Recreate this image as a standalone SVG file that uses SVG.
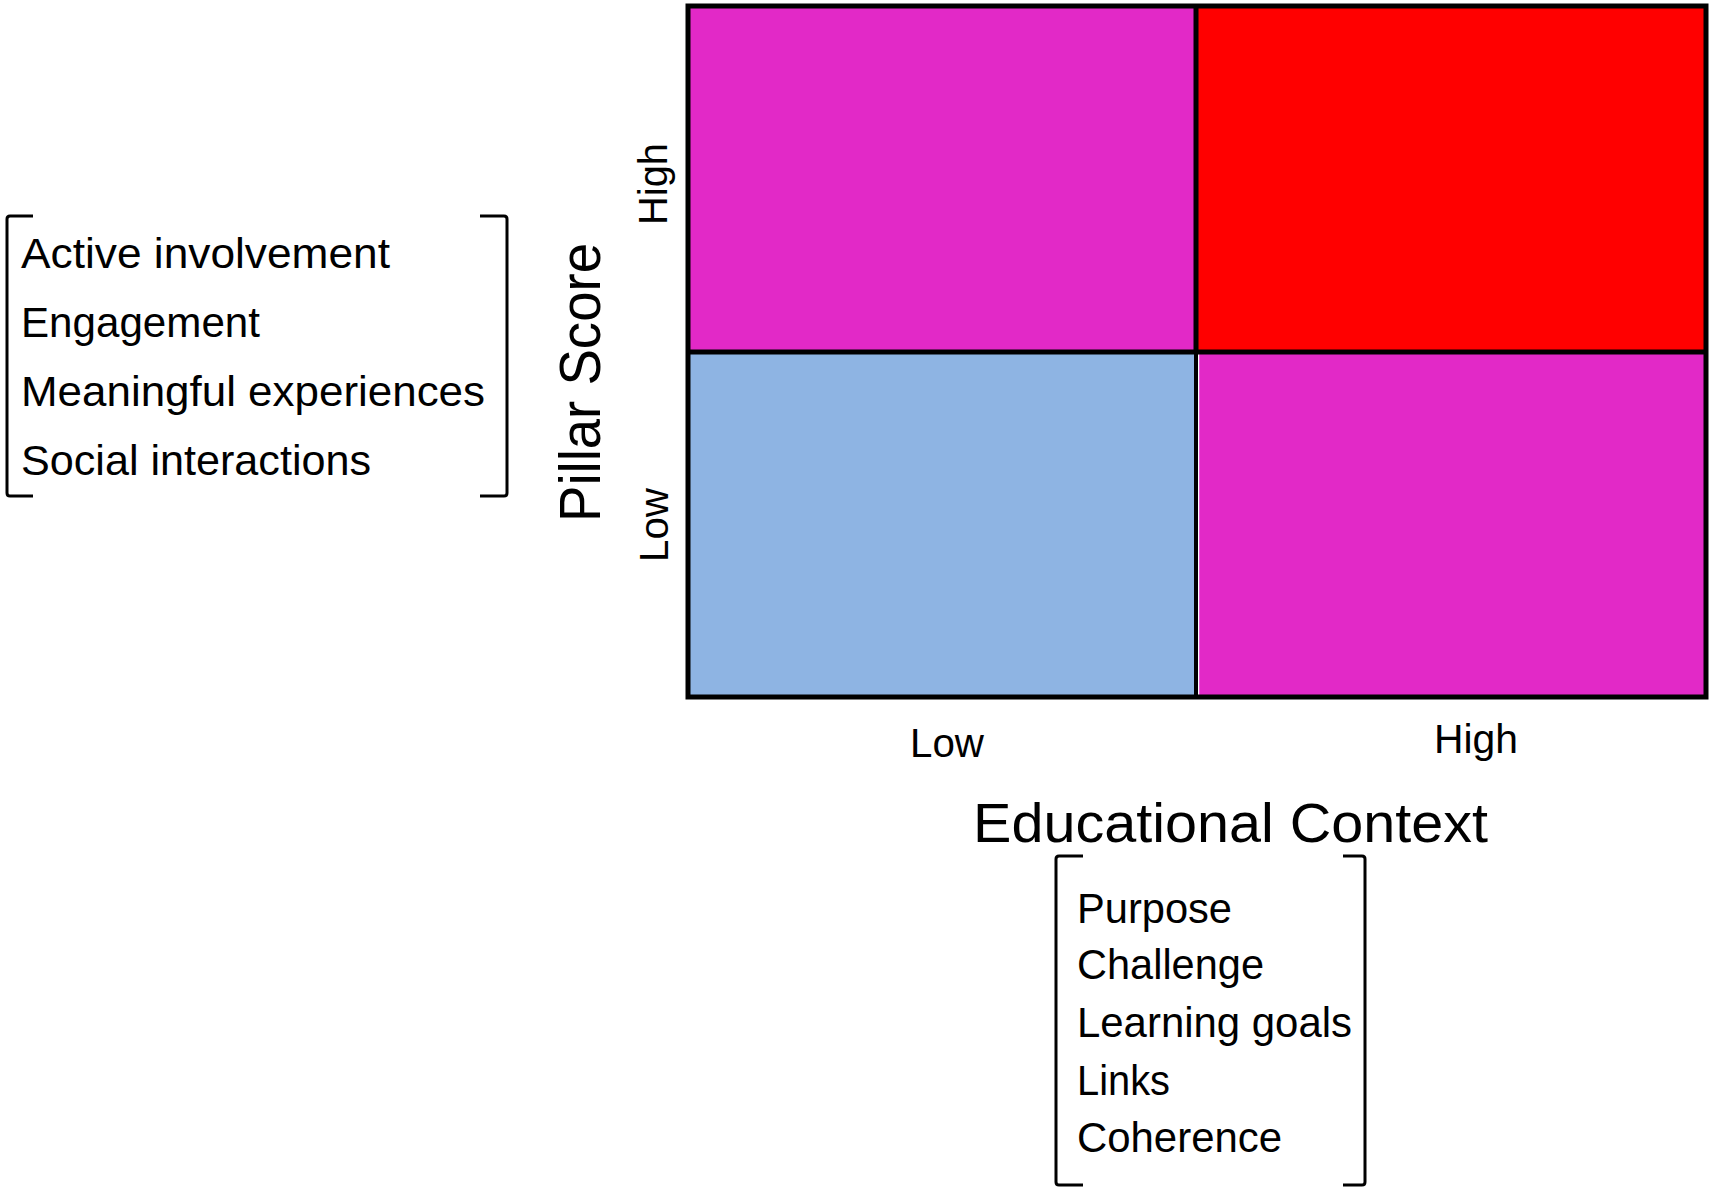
<svg xmlns="http://www.w3.org/2000/svg" width="1719" height="1189" viewBox="0 0 1719 1189">
<style>
  .t { font-family: "Liberation Sans", Arial, sans-serif; fill: #000; }
  .item { font-size: 42px; }
  .tick { font-size: 41px; }
  .axis { font-size: 57px; }
  .br { fill: none; stroke: #000; stroke-width: 3; stroke-linecap: butt; }
  .grid { fill: none; stroke: #000; stroke-width: 5; }
</style>
<rect width="1719" height="1189" fill="#ffffff"/>

<g id="matrix">
  <g id="cell-low-high"><rect x="688" y="6" width="508" height="346" fill="#E229C7"/></g>
  <g id="cell-high-high"><rect x="1196" y="6" width="510" height="346" fill="#FF0000"/></g>
  <g id="cell-low-low"><rect x="688" y="352" width="508" height="345" fill="#8EB4E3"/></g>
  <g id="cell-high-low"><rect x="1196" y="352" width="510" height="345" fill="#E229C7"/></g>
  <line x1="1198.5" y1="354" x2="1198.5" y2="695" stroke="#ffffff" stroke-width="1.5"/>
  <rect class="grid" x="688" y="6" width="1018" height="691"/>
</g>

<g id="connectors">
  <line class="grid" x1="1196" y1="6" x2="1196" y2="352"/>
  <line x1="1196" y1="352" x2="1196" y2="697" stroke="#000" stroke-width="4"/>
  <line class="grid" x1="688" y1="352" x2="1706" y2="352"/>
</g>

<g id="y-axis">
  <text class="t axis" text-anchor="middle" transform="translate(600,382.5) rotate(-90)" textLength="279" lengthAdjust="spacingAndGlyphs">Pillar Score</text>
  <text class="t tick" text-anchor="middle" transform="translate(666.5,184) rotate(-90)" textLength="82" lengthAdjust="spacingAndGlyphs">High</text>
  <text class="t tick" text-anchor="middle" transform="translate(668,525) rotate(-90)" textLength="74" lengthAdjust="spacingAndGlyphs">Low</text>
</g>

<g id="x-axis">
  <text class="t tick" x="910" y="757" textLength="74" lengthAdjust="spacingAndGlyphs">Low</text>
  <text class="t tick" x="1434" y="753" textLength="84" lengthAdjust="spacingAndGlyphs">High</text>
  <text class="t" x="973" y="842" textLength="515" lengthAdjust="spacingAndGlyphs" style="font-size:55px">Educational Context</text>
</g>

<g id="pillar-list">
  <path class="br" d="M33 216 L10 216 Q7 216 7 219 L7 493 Q7 496 10 496 L33 496"/>
  <path class="br" d="M480 216 L504 216 Q507 216 507 219 L507 493 Q507 496 504 496 L480 496"/>
  <text class="t item" x="21" y="268" textLength="369" lengthAdjust="spacingAndGlyphs">Active involvement</text>
  <text class="t item" x="21" y="337" textLength="239" lengthAdjust="spacingAndGlyphs">Engagement</text>
  <text class="t item" x="21" y="406" textLength="464" lengthAdjust="spacingAndGlyphs">Meaningful experiences</text>
  <text class="t item" x="21" y="475" textLength="350" lengthAdjust="spacingAndGlyphs">Social interactions</text>
</g>

<g id="context-list">
  <path class="br" d="M1083 856 L1059 856 Q1056 856 1056 859 L1056 1182 Q1056 1185 1059 1185 L1083 1185"/>
  <path class="br" d="M1343 856 L1362 856 Q1365 856 1365 859 L1365 1182 Q1365 1185 1362 1185 L1343 1185"/>
  <text class="t item" x="1077" y="923" textLength="155" lengthAdjust="spacingAndGlyphs">Purpose</text>
  <text class="t item" x="1077" y="979" textLength="187" lengthAdjust="spacingAndGlyphs">Challenge</text>
  <text class="t item" x="1077" y="1037" textLength="275" lengthAdjust="spacingAndGlyphs">Learning goals</text>
  <text class="t item" x="1077" y="1095" textLength="93" lengthAdjust="spacingAndGlyphs">Links</text>
  <text class="t item" x="1077" y="1152" textLength="205" lengthAdjust="spacingAndGlyphs">Coherence</text>
</g>
</svg>
